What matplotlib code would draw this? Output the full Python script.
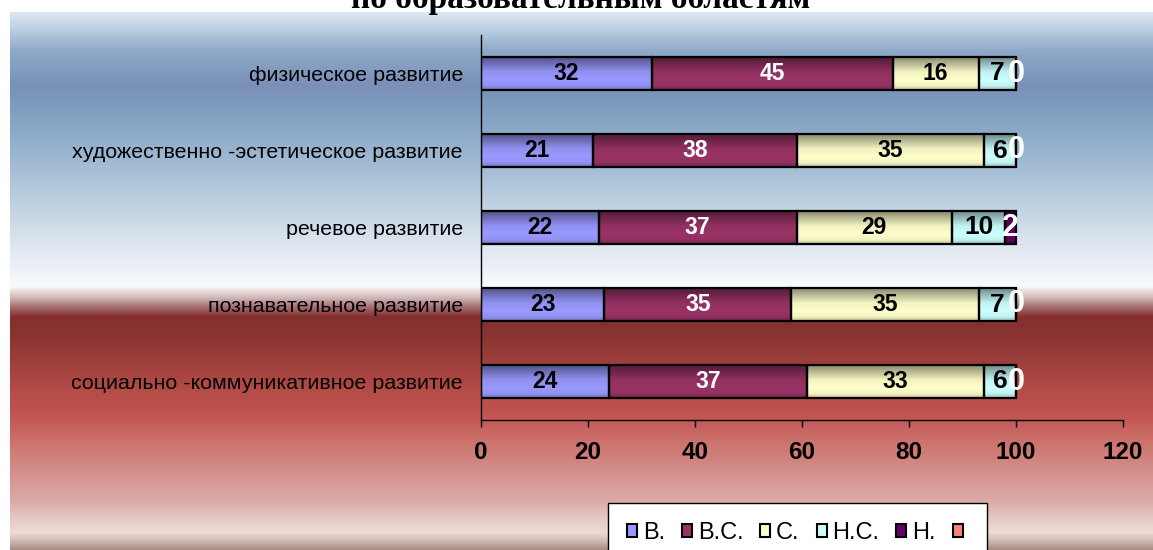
import matplotlib.pyplot as plt
import numpy as np
from matplotlib.patches import Patch
from matplotlib.colors import to_rgb

# categories, bottom to top as drawn
categories = ["социально -коммуникативное развитие",
              "познавательное развитие",
              "речевое развитие",
              "художественно -эстетическое развитие",
              "физическое развитие"]
series_names = ["В.", "В.С.", "С.", "Н.С.", "Н.", ""]
v_high = [24, 23, 22, 21, 32]
v_above = [37, 35, 37, 38, 45]
v_mid = [33, 35, 29, 35, 16]
v_below = [6, 7, 10, 6, 7]
v_low = [0, 0, 2, 0, 0]
xticks = [0, 20, 40, 60, 80, 100, 120]

colors = ["#9999ff", "#993366", "#ffffcc", "#ccffff", "#660066", "#ff8080"]
label_colors = ["black", "white", "black", "black", "white"]
label_sizes = [16.5, 16.5, 16.5, 19, 22]

W, H = 1153, 550
fig = plt.figure(figsize=(W / 100, H / 100), dpi=100)
fig.patch.set_facecolor("white")

# background gradient (pixel row -> colour)
stops = [(12, "#dde8f3"), (30, "#b8cde0"), (50, "#8fa9c8"), (85, "#7a90b8"),
         (110, "#7f9fc0"), (150, "#98b4cf"), (200, "#bccfe0"), (240, "#dbe4ee"),
         (270, "#eef2f7"), (286, "#fafbfc"), (290, "#eee0e0"), (298, "#cdb2b2"),
         (306, "#a87272"), (316, "#853030"), (330, "#873330"), (360, "#9c3e3a"),
         (390, "#b44c48"), (412, "#c0524e"), (440, "#cc706a"), (470, "#d48e8a"),
         (500, "#dcaaa6"), (520, "#e6ccc6"), (532, "#ecdcd4"), (538, "#d8c4bc"),
         (544, "#c0a8a0"), (550, "#a08880")]
rows = np.arange(12, 550)
sy = [s[0] for s in stops]
sc = np.array([to_rgb(s[1]) for s in stops])
grad = np.stack([np.interp(rows, sy, sc[:, k]) for k in range(3)], axis=1)
bg = fig.add_axes([10 / W, 0, 1 - 10 / W, 1 - 12 / H], zorder=-5)
bg.imshow(grad[:, None, :], aspect="auto", interpolation="bilinear")
bg.axis("off")

# only the lower part of the title line shows above the chart area
fig.text(581 / W, 1 - 8 / H, "по образовательным областям", ha="center", va="baseline",
         fontsize=24, fontweight="bold", family="Liberation Serif")

ax = fig.add_axes([481 / W, 130 / H, 642 / W, 385 / H])
ax.set_facecolor("none")

data = [v_high, v_above, v_mid, v_below, v_low]
y = np.arange(len(categories))
left = np.zeros(len(categories))

# vertical shading profile of a bar (top -> bottom), 1 = full colour
prof_t = [0.0, 0.12, 0.3, 0.55, 1.0]
prof_f = [0.75, 0.95, 1.0, 0.95, 0.55]
tt = np.linspace(0, 1, 40)
fac = np.interp(tt, prof_t, prof_f)

for i, vals in enumerate(data):
    bars = ax.barh(y, vals, left=left, height=0.42, color=colors[i],
                   edgecolor="black", linewidth=1.6, zorder=3)
    base = np.array(to_rgb(colors[i]))
    img = (base[None, :] * fac[:, None])[:, None, :]
    for p in bars:
        if p.get_width() <= 0:
            continue
        x0, y0 = p.get_x(), p.get_y()
        im = ax.imshow(img, extent=[x0, x0 + p.get_width(), y0 + p.get_height(), y0],
                       aspect="auto", interpolation="bilinear", zorder=2.5)
        im.set_clip_path(p)
        p.set_facecolor("none")
    ax.bar_label(bars, labels=[str(v) for v in vals], label_type="center",
                 color=label_colors[i], fontsize=label_sizes[i], fontweight="bold",
                 family="Liberation Sans", zorder=5)
    left = left + np.array(vals)

ax.set_xlim(0, 120)
ax.set_ylim(-0.5, len(categories) - 0.5)
ax.set_xticks(xticks)
ax.set_xticklabels([str(t) for t in xticks], fontsize=17.5, fontweight="bold",
                   family="Liberation Sans")
ax.set_yticks(y)
ax.set_yticklabels(categories, fontsize=15.4, family="Liberation Sans")
ax.tick_params(axis="y", length=0, pad=13)
ax.tick_params(axis="x", length=5, width=1, pad=10, direction="out")
for s in ["top", "right"]:
    ax.spines[s].set_visible(False)
for s in ["left", "bottom"]:
    ax.spines[s].set_linewidth(1)

handles = [Patch(facecolor=c, edgecolor="black", linewidth=1.5) for c in colors]
leg = fig.legend(handles, series_names, loc="upper left", ncol=6,
                 bbox_to_anchor=(608 / W, 1 - 503 / H), frameon=True, fancybox=False,
                 edgecolor="black", framealpha=1,
                 prop={"family": "Liberation Sans", "size": 17},
                 handlelength=0.42, handleheight=0.42, handletextpad=0.25,
                 columnspacing=0.72, borderpad=0.8, borderaxespad=0)
leg.get_frame().set_linewidth(1)

fig.savefig("out.png", dpi=100)
